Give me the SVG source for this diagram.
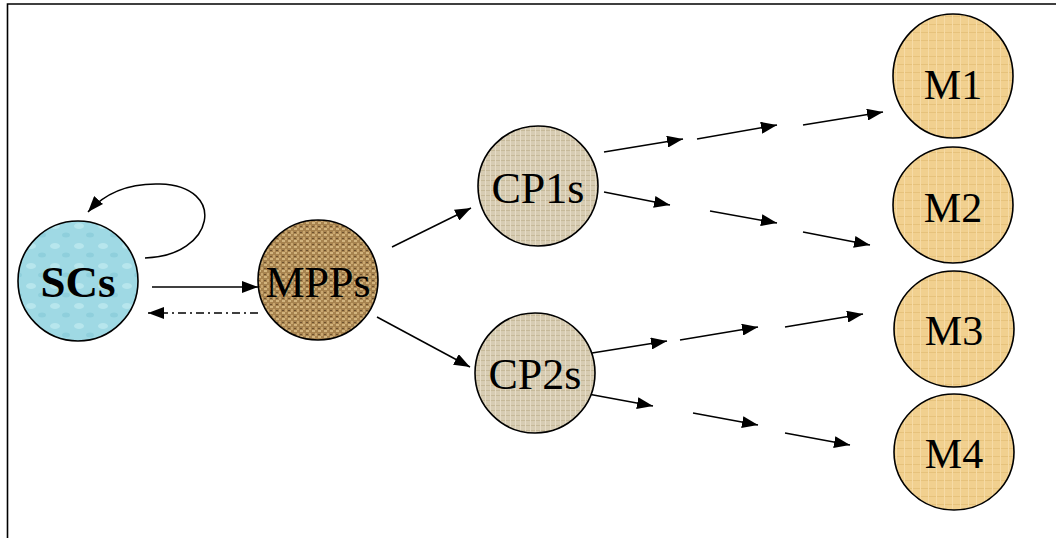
<svg xmlns="http://www.w3.org/2000/svg" width="1056" height="538" viewBox="0 0 1056 538">
<style>
.node{stroke:#000;stroke-width:1.6}
.lbl{font-family:"Liberation Serif","Times New Roman",serif;fill:#000;text-anchor:middle}
.edge{fill:none;stroke:#000;stroke-width:1.5}
</style>
<defs>
<marker id="ah" markerUnits="userSpaceOnUse" markerWidth="18" markerHeight="12" refX="16" refY="6" orient="auto">
<path d="M0,0 L16,6 L0,12 Z" fill="#000"/>
</marker>
<pattern id="pSC" width="24" height="20" patternUnits="userSpaceOnUse">
<rect width="24" height="20" fill="#9fd9e4"/>
<ellipse cx="7" cy="6" rx="5" ry="3" fill="#c2ebf2" opacity="0.7"/>
<ellipse cx="18" cy="15" rx="4" ry="2.5" fill="#7fc6d3" opacity="0.5"/>
</pattern>
<pattern id="pMP" width="6" height="6" patternUnits="userSpaceOnUse">
<rect width="6" height="6" fill="#a7834f"/>
<rect width="3" height="2" fill="#d2b47e"/>
<rect x="3" y="3" width="2" height="3" fill="#c9a770"/>
<rect x="0" y="4" width="2" height="1" fill="#6e5230"/>
</pattern>
<pattern id="pCP" width="5" height="5" patternUnits="userSpaceOnUse">
<rect width="5" height="5" fill="#d7ccb3"/>
<rect width="5" height="1" fill="#c6b999"/>
<rect width="1" height="5" fill="#e6dcc6"/>
</pattern>
<pattern id="pM" width="8" height="8" patternUnits="userSpaceOnUse">
<rect width="8" height="8" fill="#f1d08f"/>
<rect width="8" height="1" fill="#e6c27c"/>
<rect width="1" height="8" fill="#f6dba6"/>
</pattern>
</defs>
<rect width="1056" height="538" fill="#fff"/>
<path d="M7.5,538 V4 H1056" fill="none" stroke="#000" stroke-width="1.6"/>

<g id="connectors">
<path class="edge" d="M145,258 C215,256 228,186 160,184 C128,183 104,194 88,212" marker-end="url(#ah)"/>
<line class="edge" x1="152" y1="287" x2="258" y2="287" marker-end="url(#ah)"/>
<line class="edge" x1="258" y1="313" x2="148" y2="313" stroke-dasharray="8,4,2,4" marker-end="url(#ah)"/>
<line class="edge" x1="392" y1="247" x2="471" y2="208" marker-end="url(#ah)"/>
<line class="edge" x1="377" y1="317" x2="470" y2="367" marker-end="url(#ah)"/>
<line class="edge" x1="604" y1="152" x2="683" y2="139" marker-end="url(#ah)"/>
<line class="edge" x1="697" y1="139" x2="777" y2="125" marker-end="url(#ah)"/>
<line class="edge" x1="803" y1="125" x2="883" y2="112" marker-end="url(#ah)"/>
<line class="edge" x1="604" y1="192" x2="670" y2="205" marker-end="url(#ah)"/>
<line class="edge" x1="710" y1="211" x2="777" y2="223" marker-end="url(#ah)"/>
<line class="edge" x1="803" y1="232" x2="870" y2="245" marker-end="url(#ah)"/>
<line class="edge" x1="592" y1="353" x2="667" y2="341" marker-end="url(#ah)"/>
<line class="edge" x1="680" y1="340" x2="758" y2="327" marker-end="url(#ah)"/>
<line class="edge" x1="785" y1="327" x2="863" y2="314" marker-end="url(#ah)"/>
<line class="edge" x1="588" y1="394" x2="653" y2="406" marker-end="url(#ah)"/>
<line class="edge" x1="693" y1="413" x2="758" y2="425" marker-end="url(#ah)"/>
<line class="edge" x1="785" y1="433" x2="850" y2="445" marker-end="url(#ah)"/>
</g>

<g id="node-SCs"><circle class="node" cx="78" cy="281" r="60" fill="url(#pSC)"/><text class="lbl" x="78" y="297" font-size="45" font-weight="bold">SCs</text></g>
<g id="node-MPPs"><circle class="node" cx="318" cy="280" r="60" fill="url(#pMP)"/><text class="lbl" x="318" y="297" font-size="44">MPPs</text></g>
<g id="node-CP1s"><circle class="node" cx="538" cy="186" r="60" fill="url(#pCP)"/><text class="lbl" x="538" y="203" font-size="44">CP1s</text></g>
<g id="node-CP2s"><circle class="node" cx="535" cy="373" r="60" fill="url(#pCP)"/><text class="lbl" x="535" y="389" font-size="44">CP2s</text></g>
<g id="node-M1"><ellipse class="node" cx="953" cy="76" rx="60" ry="62" fill="url(#pM)"/><text class="lbl" x="953" y="99" font-size="42">M1</text></g>
<g id="node-M2"><ellipse class="node" cx="953" cy="205" rx="60" ry="58" fill="url(#pM)"/><text class="lbl" x="953" y="222" font-size="42">M2</text></g>
<g id="node-M3"><ellipse class="node" cx="954" cy="329" rx="60" ry="58" fill="url(#pM)"/><text class="lbl" x="954" y="345" font-size="42">M3</text></g>
<g id="node-M4"><ellipse class="node" cx="954" cy="452" rx="60" ry="58" fill="url(#pM)"/><text class="lbl" x="954" y="468" font-size="42">M4</text></g>
</svg>
